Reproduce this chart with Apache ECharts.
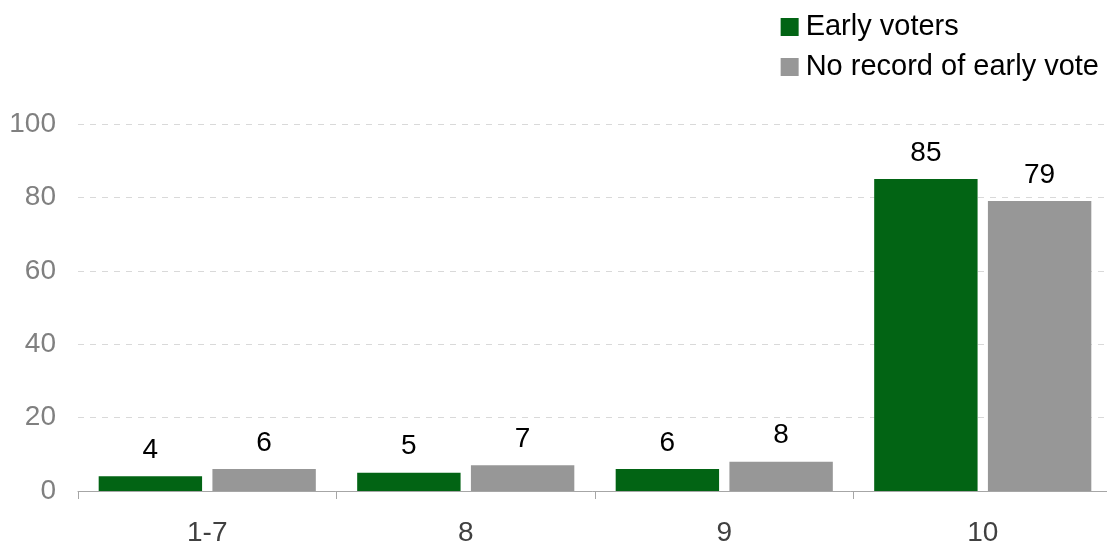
<!DOCTYPE html>
<html>
<head>
<meta charset="utf-8">
<script src="https://cdn.jsdelivr.net/npm/echarts@6/dist/echarts.min.js"></script>
<style>
  html, body { margin: 0; padding: 0; background: #fff; }
  #chart { width: 1107px; height: 544px; }
</style>
</head>
<body>
<div id="chart"></div>
<script>
// Share of respondents by rating bucket
const categories = ['1-7', '8', '9', '10'];
const earlyVoters = [4, 5, 6, 85];
const noRecord = [6, 7, 8, 79];
const seriesNames = ['Early voters', 'No record of early vote'];

const font = 'Liberation Sans, Arial, sans-serif';
const chart = echarts.init(document.getElementById('chart'));

const labelStyle = {
  show: true,
  position: 'top',
  distance: 12,
  color: '#000',
  fontSize: 28,
  fontFamily: font
};

chart.setOption({
  animation: false,
  legend: {
    orient: 'vertical',
    align: 'left',
    right: 3,
    top: 7,
    itemWidth: 18,
    itemHeight: 18,
    itemGap: 10,
    icon: 'rect',
    textStyle: { fontSize: 29, fontFamily: font, color: '#000', padding: [0, 0, 0, 2], lineHeight: 30 },
    data: seriesNames
  },
  grid: { left: 78, right: -5, top: 124, bottom: 53, outerBoundsMode: 'none', containLabel: false },
  xAxis: {
    type: 'category',
    data: categories,
    axisLine: { lineStyle: { color: '#a6a6a6', width: 1 } },
    axisTick: { show: true, length: 8, lineStyle: { color: '#a6a6a6' } },
    axisLabel: { fontSize: 28, fontFamily: font, color: '#404040', margin: 28 }
  },
  yAxis: {
    type: 'value',
    min: 0,
    max: 100,
    interval: 20,
    axisLine: { show: false },
    axisTick: { show: false },
    splitLine: { lineStyle: { color: '#d9d9d9', type: [6, 6], width: 1 } },
    axisLabel: { fontSize: 28, fontFamily: font, color: '#808080', margin: 22 }
  },
  series: [
    {
      name: seriesNames[0],
      type: 'bar',
      data: earlyVoters,
      itemStyle: { color: '#026414' },
      barGap: '10%',
      barCategoryGap: '16%',
      label: labelStyle
    },
    {
      name: seriesNames[1],
      type: 'bar',
      data: noRecord,
      itemStyle: { color: '#979797' },
      label: labelStyle
    }
  ]
});
</script>
</body>
</html>
